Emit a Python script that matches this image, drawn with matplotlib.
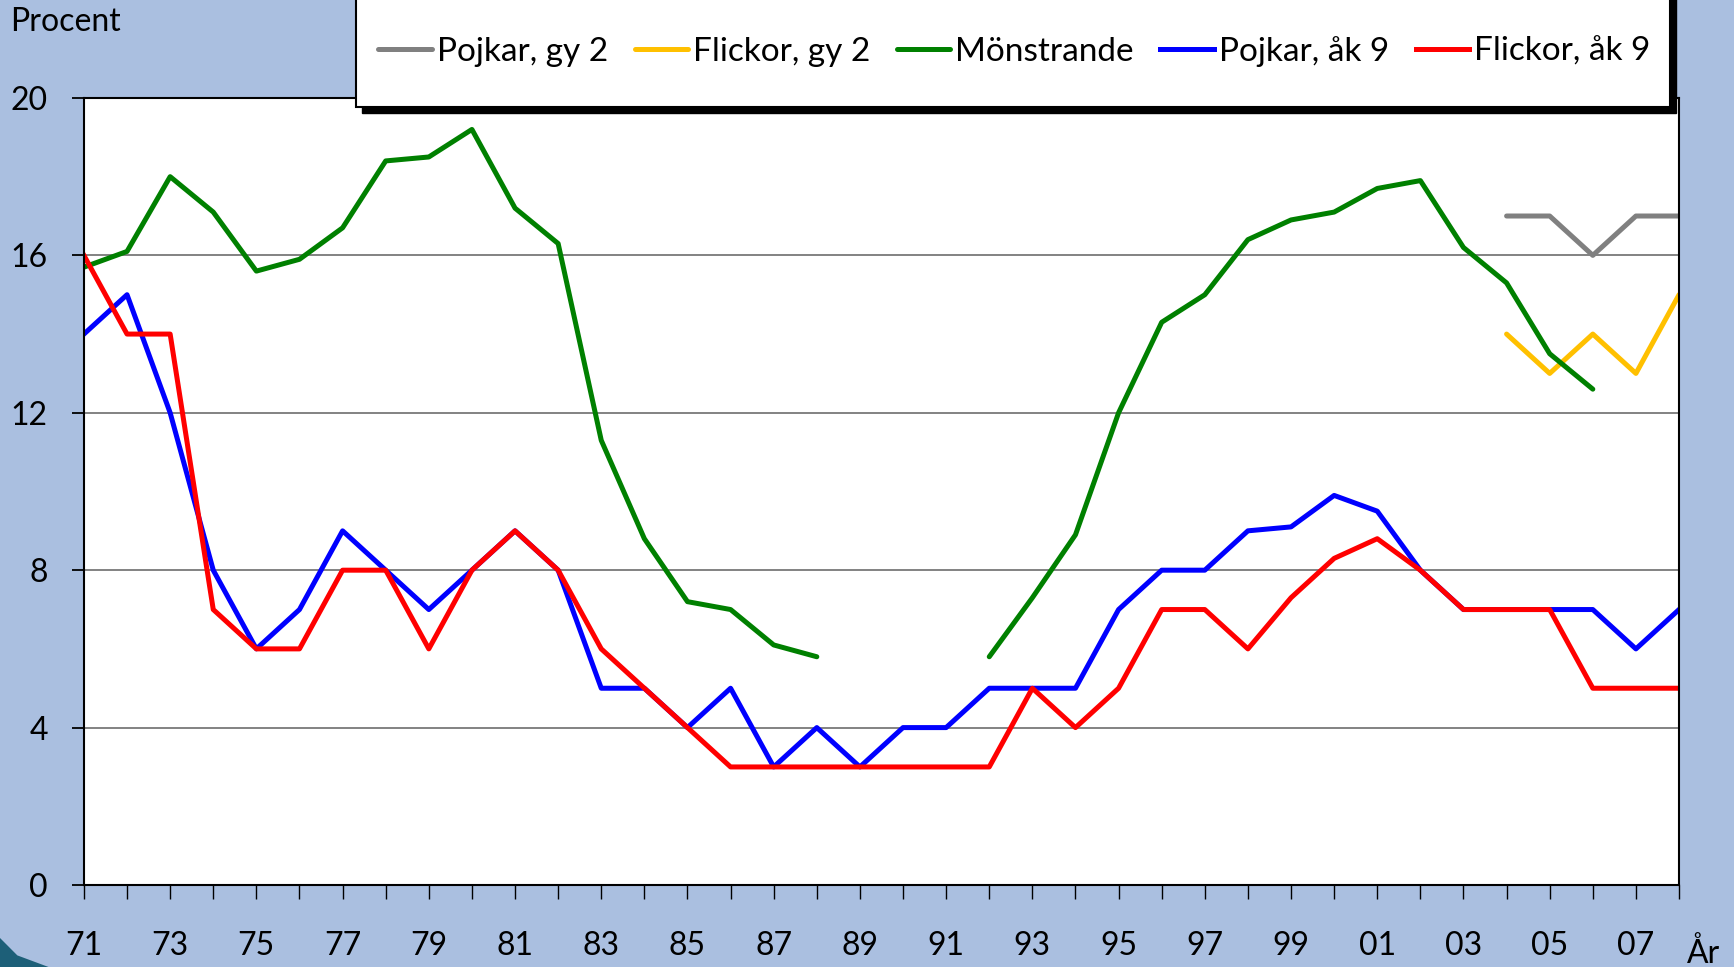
import matplotlib.pyplot as plt
from matplotlib.patches import Rectangle, Polygon
import numpy as np

# år 1971-2008
ar = list(range(71, 109))

# Mönstrande (saknas 89-91 och 07-08)
monstrande = [15.7, 16.1, 18.0, 17.1, 15.6, 15.9, 16.7, 18.4, 18.5, 19.2,
              17.2, 16.3, 11.3, 8.8, 7.2, 7.0, 6.1, 5.8, None, None,
              None, 5.8, 7.3, 8.9, 12.0, 14.3, 15.0, 16.4, 16.9, 17.1,
              17.7, 17.9, 16.2, 15.3, 13.5, 12.6, None, None]

pojkar_ak9 = [14, 15, 12, 8, 6, 7, 9, 8, 7, 8,
              9, 8, 5, 5, 4, 5, 3, 4, 3, 4,
              4, 5, 5, 5, 7, 8, 8, 9, 9.1, 9.9,
              9.5, 8, 7, 7, 7, 7, 6, 7]

flickor_ak9 = [16, 14, 14, 7, 6, 6, 8, 8, 6, 8,
               9, 8, 6, 5, 4, 3, 3, 3, 3, 3,
               3, 3, 5, 4, 5, 7, 7, 6, 7.3, 8.3,
               8.8, 8, 7, 7, 7, 5, 5, 5]

# gymnasiet, bara 2004-2008
ar_gy = [104, 105, 106, 107, 108]
pojkar_gy2 = [17, 17, 16, 17, 17]
flickor_gy2 = [14, 13, 14, 13, 15]

bakgrund = "#aabfe0"
plt.rcParams["font.family"] = ["Lato", "DejaVu Sans"]

fig = plt.figure(figsize=(17.34, 9.67), dpi=100, facecolor=bakgrund)
ax = fig.add_axes([0.0484, 0.0848, 0.9199, 0.8139])

m = np.array([np.nan if v is None else v for v in monstrande], dtype=float)
lw = 3.6
l1, = ax.plot(ar_gy, pojkar_gy2, color="#808080", lw=lw, solid_capstyle="round", label="Pojkar, gy 2")
l2, = ax.plot(ar_gy, flickor_gy2, color="#ffc000", lw=lw, solid_capstyle="round", label="Flickor, gy 2")
l3, = ax.plot(ar, m, color="#008000", lw=lw, solid_capstyle="round", label="Mönstrande")
l4, = ax.plot(ar, pojkar_ak9, color="#0000ff", lw=lw, label="Pojkar, åk 9")
l5, = ax.plot(ar, flickor_ak9, color="#ff0000", lw=lw, label="Flickor, åk 9")

ax.set_xlim(71, 108)
ax.set_ylim(0, 20)
ax.set_yticks([0, 4, 8, 12, 16, 20])
ax.set_xticks(ar)
etiketter = []
for a in ar:
    etiketter.append(f"{a % 100:02d}" if (a - 71) % 2 == 0 else "")
ax.set_xticklabels(etiketter)
ax.grid(axis="y", color="#606060", lw=1.1)
ax.set_axisbelow(True)
for s in ax.spines.values():
    s.set_color("black")
    s.set_linewidth(1.5)
ax.tick_params(axis="y", length=9, width=1.3, pad=17, labelsize=23)
ax.tick_params(axis="x", length=10, width=1.0, pad=23, labelsize=23)

ax.text(1.0157, -0.087, "År", transform=ax.transAxes, fontsize=23, ha="center", va="center")
fig.text(0.006, 0.993, "Procent", fontsize=23, ha="left", va="top")

# legendruta med svart skugga
x0, y0, w, h = 0.2053, 0.8893, 0.7578, 0.13
fig.patches.append(Rectangle((x0 + 0.0035, y0 - 0.0062), w, h, transform=fig.transFigure,
                             facecolor="black", edgecolor="black", zorder=5))
fig.patches.append(Rectangle((x0, y0), w, h, transform=fig.transFigure,
                             facecolor="white", edgecolor="black", lw=1.5, zorder=6))
leg = fig.legend(handles=[l1, l2, l3, l4, l5], loc="center", bbox_to_anchor=(0.585, 0.947),
                 ncol=5, frameon=False, fontsize=24, handlelength=1.6, handletextpad=0.15,
                 columnspacing=0.8)
leg.set_zorder(7)

# liten dekoration nere till vänster
fig.patches.append(Polygon([(0, 0), (0.028, 0), (0.01, 0.012), (0, 0.03)], closed=True,
                           transform=fig.transFigure, facecolor="#1d5f78", edgecolor="none"))

fig.savefig("out.png", dpi=100, facecolor=bakgrund)
